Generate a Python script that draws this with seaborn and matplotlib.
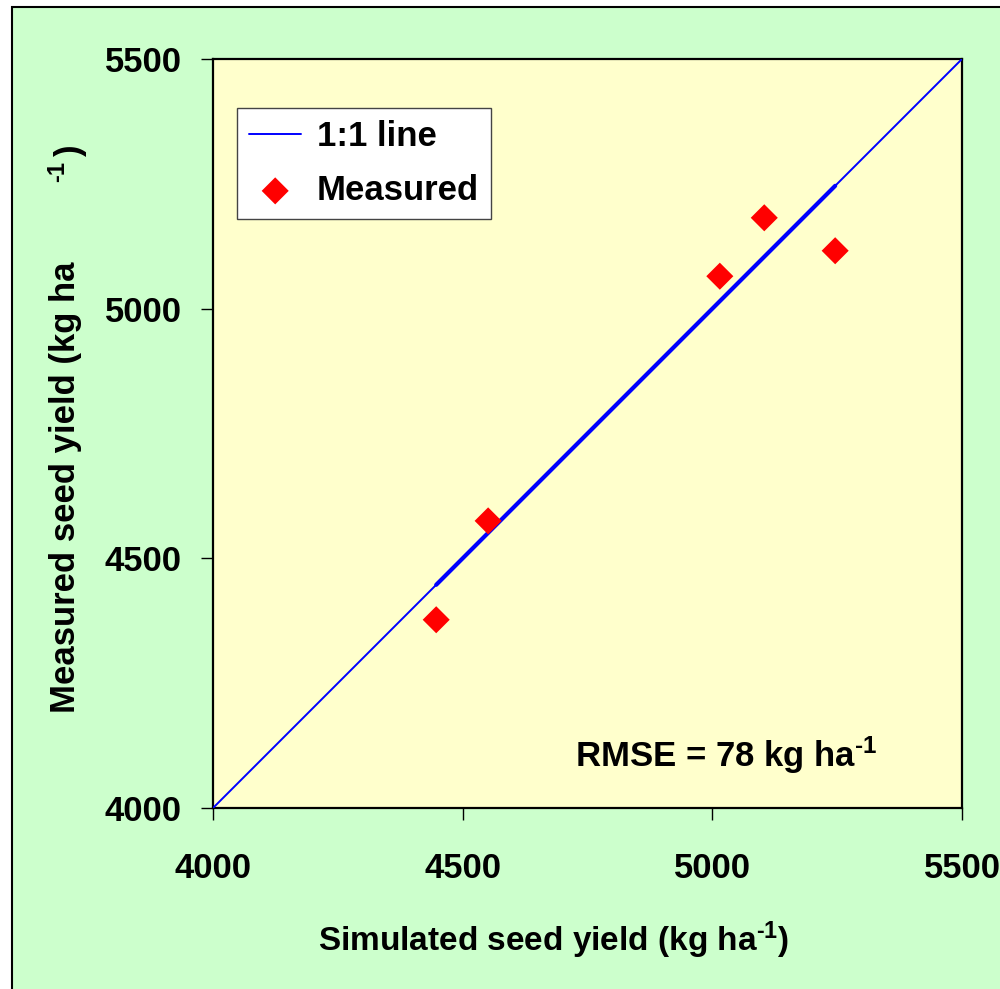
import matplotlib
matplotlib.use("Agg")
import matplotlib.pyplot as plt
from matplotlib.patches import Rectangle
import seaborn as sns
import pandas as pd

# Simulated vs measured seed yield (kg ha-1)
simulated = [4447, 4551, 5015, 5104, 5246]
measured = [4377, 4575, 5065, 5182, 5116]
one_to_one = [4000, 5500]
ticks = [4000, 4500, 5000, 5500]
rmse_label = r"RMSE = 78 kg ha$^{\text{-}1}$"

sns.set_theme(style="white")
plt.rcParams["font.family"] = ["Liberation Sans", "DejaVu Sans"]
plt.rcParams["font.weight"] = "bold"
plt.rcParams["text.color"] = "black"
plt.rcParams["xtick.color"] = "black"
plt.rcParams["ytick.color"] = "black"
plt.rcParams["mathtext.fontset"] = "custom"
plt.rcParams["mathtext.bf"] = "Liberation Sans:bold"
plt.rcParams["mathtext.rm"] = "Liberation Sans:bold"
plt.rcParams["mathtext.default"] = "bf"

W, H = 1000, 989
fig = plt.figure(figsize=(W / 100, H / 100), dpi=100, facecolor="white")
fig.patches.append(Rectangle((12 / W, -0.02), 1.1, 1 - 7 / H + 0.02,
                             transform=fig.transFigure, facecolor="#CCFFCC",
                             edgecolor="black", linewidth=1.5, zorder=-10))

ax = fig.add_axes([213 / W, 1 - 808 / H, 749 / W, 749 / H])
ax.set_facecolor("#FFFFCC")

df_line = pd.DataFrame({"x": one_to_one, "y": one_to_one})
df_fit = pd.DataFrame({"x": [min(simulated), max(simulated)],
                       "y": [min(simulated), max(simulated)]})
df_pts = pd.DataFrame({"sim": simulated, "meas": measured})

sns.lineplot(data=df_line, x="x", y="y", ax=ax, color="#0000FF",
             linewidth=1.4, label="1:1 line", zorder=3)
sns.lineplot(data=df_fit, x="x", y="y", ax=ax, color="#0000FF",
             linewidth=3.0, zorder=3, legend=False)
sns.scatterplot(data=df_pts, x="sim", y="meas", ax=ax, marker="D", s=190,
                color="#FF0000", edgecolor="none", label="Measured", zorder=4)

ax.set_xlim(4000, 5500)
ax.set_ylim(4000, 5500)
ax.set_xticks(ticks)
ax.set_yticks(ticks)
ax.set_xticklabels([str(t) for t in ticks])
ax.set_yticklabels([str(t) for t in ticks])
ax.tick_params(axis="x", bottom=True, direction="out", length=8.5, width=1,
               color="black", labelcolor="black", pad=23, labelsize=25)
ax.tick_params(axis="y", left=True, direction="out", length=8.5, width=1,
               color="black", labelcolor="black", pad=14, labelsize=25)
for lab in ax.get_xticklabels() + ax.get_yticklabels():
    lab.set_fontweight("bold")
for sp in ax.spines.values():
    sp.set_visible(True)
    sp.set_color("black")
    sp.set_linewidth(1.6)
ax.set_xlabel("")
ax.set_ylabel("")

leg = ax.legend(loc="upper left", bbox_to_anchor=(24 / 749, 1 - 49 / 749),
                frameon=True, fancybox=False, framealpha=1, edgecolor="#444444",
                facecolor="white", prop={"size": 25, "weight": "bold"},
                handlelength=1.5, handletextpad=0.45, borderpad=0.35,
                labelspacing=0.6, borderaxespad=0)
leg.get_frame().set_linewidth(1.0)
for t in leg.get_texts():
    t.set_color("black")

ax.text(0.685, 0.07, rmse_label, transform=ax.transAxes, ha="center",
        va="center", fontsize=25, fontweight="bold", color="black")

fig.text(554 / W, 1 - 940 / H, r"Simulated seed yield (kg ha$^{\text{-}1}$)",
         ha="center", va="center", fontsize=24, fontweight="bold", color="black")
fig.text(66 / W, 1 - 487 / H, "Measured seed yield (kg ha", rotation=90,
         ha="center", va="center", fontsize=25, fontweight="bold", color="black")
fig.text(58 / W, 1 - 172 / H, "-1", rotation=90, ha="center", va="center",
         fontsize=17, fontweight="bold", color="black")
fig.text(70 / W, 1 - 150 / H, ")", rotation=90, ha="center", va="center",
         fontsize=25, fontweight="bold", color="black")

fig.savefig("out.png", dpi=100, facecolor=fig.get_facecolor())
